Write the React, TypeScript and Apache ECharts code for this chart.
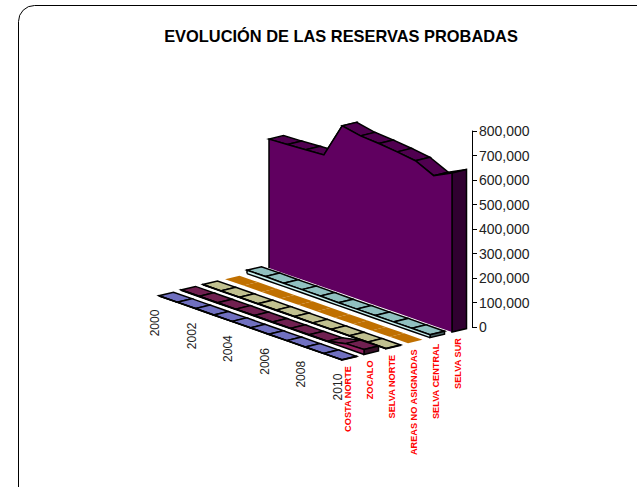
import React, { useEffect, useRef } from "react";
import * as echarts from "echarts";

const TITLE = "EVOLUCIÓN DE LAS RESERVAS PROBADAS";
const years = [2000, 2001, 2002, 2003, 2004, 2005, 2006, 2007, 2008, 2009, 2010];
const yearTicks = [2000, 2002, 2004, 2006, 2008, 2010];
const categories = ["COSTA NORTE", "ZOCALO", "SELVA NORTE", "AREAS NO ASIGNADAS", "SELVA CENTRAL", "SELVA SUR"];

const costaNorte = [1000, 1000, 1000, 1000, 1000, 1000, 1000, 1000, 1000, 1000, 1000];
const zocalo = [2000, 2000, 2000, 2000, 2000, 2000, 2000, 2000, 2000, 18000, 20000];
const selvaNorte = [1500, 1500, 1500, 1500, 1500, 1500, 1500, 1500, 1500, 1500, 1500];
const areasNoAsignadas = [0, 0, 0, 0, 0, 0, 0, 0, 0, 0, 0];
const selvaCentral = [14000, 14000, 13000, 13000, 13000, 12000, 12000, 12000, 12000, 12000, 12000];
const selvaSur = [526000, 530000, 535000, 540000, 685000, 670000, 665000, 657000, 647000, 612000, 649000];

const seriesValues = [costaNorte, zocalo, selvaNorte, areasNoAsignadas, selvaCentral, selvaSur];
const topColors = ["#7070C0", "#702050", "#C0C090", "#C07000", "#90C0C0", "#500050"];
const frontColors = ["#9090E0", "#902060", "#E0E0B0", "#C07000", "#C8F0F0", "#600060"];
const sideColors = ["#383860", "#381028", "#606048", "#C07000", "#486060", "#300030"];

const AXIS_X = 269;
const STEP_X = 22;
const STEP_Y = 5.6;
const WIDTH_X = 14.5;
const WIDTH_Y = 3.5;
const SHEAR = 0.35;
const LIFT = 59;
const LW = 1.5;
const FONT = "Liberation Sans";

function project(api: any, year: number, value: number, s: number, w: number): number[] {
  const c = api.coord([year, value]);
  return [
    c[0] + (s - 5) * STEP_X + w * WIDTH_X,
    c[1] - LIFT + (c[0] - AXIS_X) * SHEAR + (5 - s) * STEP_Y - w * WIDTH_Y,
  ];
}

function ribbonRenderer(s: number) {
  const noLine = s === 3;
  const values = seriesValues[s];
  return (_params: any, api: any) => {
    const year = api.value(0);
    const v = api.value(1);
    const idx = years.indexOf(year);
    const children: any[] = [];
    const stroke = noLine ? "#C07000" : "#000";
    const lineWidth = noLine ? 0 : LW;
    if (idx < years.length - 1) {
      const y2 = years[idx + 1];
      const v2 = values[idx + 1];
      children.push({
        type: "polygon",
        shape: {
          points: [
            project(api, year, v, s, 0),
            project(api, y2, v2, s, 0),
            project(api, y2, v2, s, 1),
            project(api, year, v, s, 1),
          ],
        },
        style: { fill: topColors[s], stroke, lineWidth },
      });
    } else {
      // Last item: end face, then the whole front face as one outline
      const f = project(api, year, v, s, 0);
      const b = project(api, year, v, s, 1);
      const g = project(api, year, 0, s, 0);
      const gb = project(api, year, 0, s, 1);
      children.push({
        type: "polygon",
        shape: { points: [f, b, gb, g] },
        style: { fill: sideColors[s], stroke, lineWidth },
      });
      const tops = years.map((y, i) => project(api, y, values[i], s, 0));
      const bottoms = years.map((y) => project(api, y, 0, s, 0));
      children.push({
        type: "polygon",
        shape: { points: [...tops, ...bottoms.slice().reverse()] },
        style: { fill: frontColors[s] },
      });
      children.push({
        type: "polyline",
        shape: { points: [bottoms[0], ...tops, bottoms[bottoms.length - 1]] },
        style: { fill: "none", stroke, lineWidth },
      });
      if (s < 5) {
        children.push({
          type: "polyline",
          shape: { points: bottoms },
          style: { fill: "none", stroke, lineWidth },
        });
      }
    }
    return { type: "group", children };
  };
}

function yearLabelRenderer(_params: any, api: any) {
  const year = api.value(0);
  const p = project(api, year, 0, 0, 0);
  return {
    type: "text",
    x: p[0] - 4,
    y: p[1] + 27,
    rotation: Math.PI / 2,
    style: {
      text: String(year),
      fontFamily: FONT,
      fontSize: 12,
      fill: "#222",
      align: "center",
      verticalAlign: "middle",
    },
  };
}

function categoryLabelRenderer(params: any, api: any) {
  const s = params.dataIndex;
  const p = project(api, 2010, 0, s, 0);
  return {
    type: "text",
    x: p[0] + 5.5,
    y: p[1] + 6,
    rotation: Math.PI / 2,
    style: {
      text: categories[s],
      fontFamily: FONT,
      fontSize: 9.2,
      fontWeight: "bold",
      fill: "#FF0000",
      align: "right",
      verticalAlign: "middle",
    },
  };
}

export default function App() {
  const ref = useRef<HTMLDivElement>(null);
  useEffect(() => {
    const chart = echarts.init(ref.current!, undefined, { renderer: "svg" });
    const ribbons = [5, 4, 3, 2, 1, 0].map((s) => ({
      type: "custom",
      name: categories[s],
      coordinateSystem: "cartesian2d",
      clip: false,
      silent: true,
      data: seriesValues[s].map((v, i) => [years[i], v]),
      renderItem: ribbonRenderer(s),
    }));
    chart.setOption({
      animation: false,
      backgroundColor: "#fff",
      title: {
        text: TITLE,
        left: 336,
        top: 23,
        textAlign: "center",
        textStyle: { fontFamily: FONT, fontSize: 16.4, fontWeight: "bold", color: "#000" },
      },
      graphic: [
        {
          type: "rect",
          silent: true,
          z: -1,
          shape: { x: 18.5, y: 5.5, width: 720, height: 500, r: 16 },
          style: { fill: "none", stroke: "#000", lineWidth: 1 },
        },
      ],
      grid: { left: AXIS_X, top: 131, width: 183, height: 196 },
      xAxis: { type: "value", min: 2000, max: 2010, interval: 2, show: false },
      yAxis: {
        type: "value",
        position: "right",
        offset: 20,
        min: 0,
        max: 800000,
        interval: 100000,
        splitLine: { show: false },
        axisLine: { show: true, lineStyle: { color: "#000", width: 1 } },
        axisTick: { show: true, length: 5, lineStyle: { color: "#000" } },
        axisLabel: {
          margin: 7,
          fontFamily: FONT,
          fontSize: 14,
          color: "#222",
          formatter: (v: number) => v.toLocaleString("en-US"),
        },
      },
      series: [
        ...ribbons,
        {
          type: "custom",
          name: "years",
          coordinateSystem: "cartesian2d",
          clip: false,
          silent: true,
          data: yearTicks.map((y) => [y, 0]),
          renderItem: yearLabelRenderer,
        },
        {
          type: "custom",
          name: "categories",
          coordinateSystem: "cartesian2d",
          clip: false,
          silent: true,
          data: categories.map(() => [2010, 0]),
          renderItem: categoryLabelRenderer,
        },
      ],
    });
    return () => chart.dispose();
  }, []);
  return <div ref={ref} style={{ position: "absolute", left: 0, top: 0, width: 637, height: 487 }} />;
}
